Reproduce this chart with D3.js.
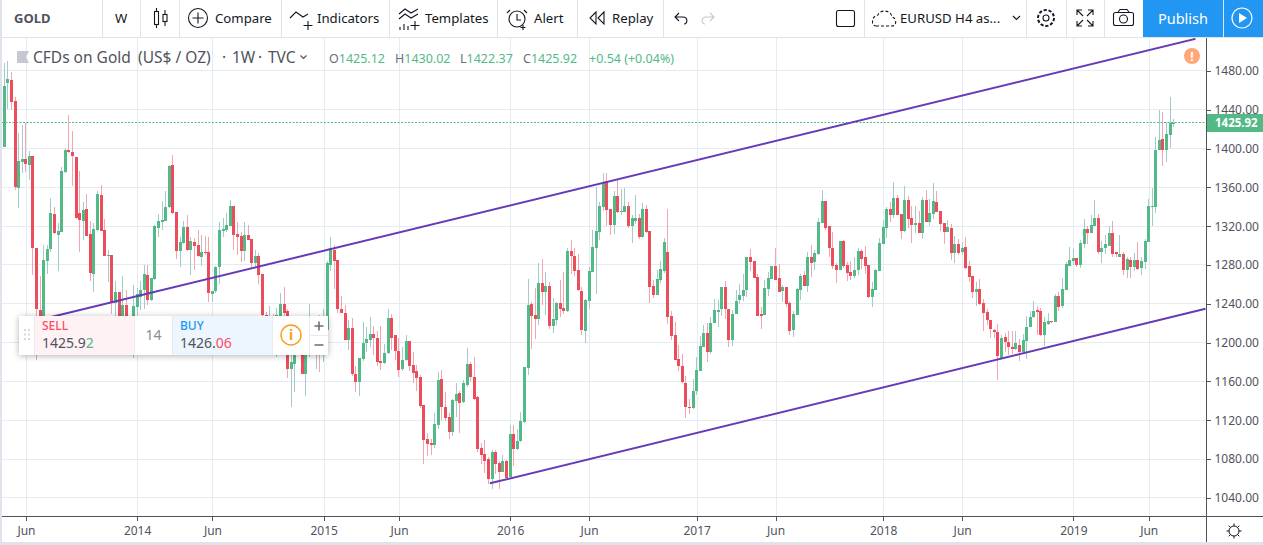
<!DOCTYPE html>
<html>
<head>
<meta charset="utf-8">
<style>
html, body { margin: 0; padding: 0; background: #fff; overflow: hidden; }
svg { display: block; }
text { font-family: "Noto Sans", sans-serif; }
.axis text { font-family: "Noto Sans", sans-serif; font-size: 12px; fill: #50535e; }
.axis path, .axis line { stroke: #50535e; shape-rendering: crispEdges; }
.tool { font-size: 13.2px; fill: #131722; }
.ico { fill: none; stroke: #131722; stroke-width: 1.1; }
</style>
<script src="https://cdnjs.cloudflare.com/ajax/libs/d3/7.8.5/d3.min.js"></script>
</head>
<body>
<script>
// weekly candles
var opens = [
 1402,1468,1471,1449,1359,1386,1389,1383,1392,1298,
 1234,1215,1284,1296,1333,1311,1314,1376,1398,1396,
 1391,1334,1325,1338,1312,1271,1316,1352,1316,1289,
 1290,1241,1252,1227,1239,1215,1205,1237,1247,1254,
 1270,1244,1266,1318,1324,1325,1340,1383,1335,1294,
 1303,1319,1295,1304,1301,1288,1293,1293,1250,1253,
 1278,1315,1316,1320,1341,1312,1310,1294,1311,1307,
 1282,1289,1271,1228,1222,1226,1218,1222,1240,1233,
 1173,1178,1188,1188,1168,1188,1199,1204,1208,1204,
 1213,1280,1295,1285,1235,1231,1203,1215,1168,1159,
 1183,1200,1203,1209,1205,1181,1179,1189,1225,1208,
 1191,1173,1182,1202,1177,1171,1165,1136,1101,1097,
 1095,1115,1163,1134,1123,1108,1140,1148,1139,1156,
 1178,1165,1144,1091,1085,1080,1059,1087,1076,1067,
 1078,1062,1106,1090,1099,1118,1174,1240,1228,1224,
 1261,1252,1258,1217,1223,1241,1236,1233,1294,1289,
 1275,1253,1212,1243,1273,1298,1314,1340,1367,1338,
 1321,1351,1335,1335,1341,1320,1325,1328,1309,1338,
 1315,1258,1249,1265,1274,1293,1227,1208,1183,1176,
 1158,1134,1133,1150,1171,1196,1210,1190,1220,1232,
 1235,1257,1235,1203,1229,1244,1248,1254,1288,1284,
 1268,1229,1228,1255,1266,1279,1267,1253,1257,1241,
 1213,1228,1254,1270,1258,1288,1283,1291,1323,1346,
 1320,1297,1280,1275,1305,1280,1273,1269,1275,1294,
 1288,1280,1247,1254,1274,1302,1318,1338,1331,1349,
 1333,1315,1347,1328,1321,1323,1313,1347,1324,1333,
 1345,1336,1323,1314,1318,1292,1302,1293,1299,1279,
 1269,1252,1255,1241,1232,1223,1213,1211,1184,1206,
 1201,1196,1193,1198,1190,1202,1216,1226,1234,1233,
 1208,1219,1222,1221,1248,1238,1254,1279,1284,1287,
 1280,1302,1317,1313,1320,1328,1293,1298,1300,1313,
 1293,1288,1291,1275,1285,1278,1285,1277,1283,1304,
 1340,1340,1398,1410,1398,1414,1425.12];
var highs = [
 1488,1490,1479,1453,1416,1424,1426,1397,1392,1298,
 1269,1301,1301,1349,1340,1323,1381,1401,1435,1418,
 1391,1377,1345,1353,1325,1323,1356,1362,1327,1295,
 1290,1263,1252,1269,1254,1220,1259,1256,1263,1280,
 1280,1267,1321,1333,1346,1356,1383,1393,1335,1309,
 1325,1332,1309,1308,1316,1311,1310,1309,1253,1279,
 1324,1328,1334,1347,1341,1324,1314,1324,1321,1307,
 1295,1292,1271,1232,1238,1230,1236,1251,1257,1235,
 1200,1200,1205,1210,1210,1240,1222,1222,1228,1235,
 1284,1309,1301,1285,1248,1239,1223,1225,1176,1184,
 1221,1216,1226,1217,1212,1217,1199,1235,1230,1208,
 1205,1195,1208,1202,1190,1177,1167,1136,1107,1101,
 1128,1170,1172,1149,1128,1142,1158,1150,1162,1194,
 1180,1185,1145,1097,1100,1082,1089,1089,1078,1084,
 1079,1115,1115,1111,1129,1175,1266,1242,1256,1282,
 1286,1273,1262,1246,1242,1265,1273,1298,1306,1297,
 1291,1257,1245,1278,1316,1360,1345,1375,1375,1338,
 1356,1368,1358,1359,1345,1331,1352,1333,1344,1342,
 1315,1265,1275,1284,1308,1338,1233,1221,1198,1188,
 1166,1142,1163,1185,1207,1218,1220,1226,1245,1244,
 1257,1264,1235,1234,1254,1260,1271,1288,1296,1284,
 1271,1237,1265,1273,1279,1297,1281,1259,1257,1243,
 1233,1256,1271,1274,1293,1301,1295,1328,1357,1346,
 1320,1314,1282,1305,1306,1283,1284,1288,1298,1296,
 1300,1280,1262,1276,1308,1326,1340,1345,1366,1352,
 1333,1361,1351,1341,1341,1336,1350,1357,1348,1365,
 1356,1336,1323,1326,1322,1310,1307,1304,1309,1284,
 1269,1262,1266,1245,1235,1223,1214,1219,1208,1210,
 1212,1212,1212,1204,1209,1227,1233,1243,1238,1236,
 1226,1231,1222,1250,1252,1267,1283,1299,1296,1287,
 1306,1327,1320,1331,1347,1333,1305,1311,1320,1325,
 1293,1311,1293,1288,1288,1292,1304,1288,1307,1348,
 1359,1412,1440,1438,1427,1453,1430.02];
var lows = [
 1402,1441,1440,1357,1339,1375,1376,1368,1270,1182,
 1205,1205,1271,1293,1312,1274,1314,1375,1395,1361,
 1327,1293,1306,1310,1263,1252,1315,1315,1289,1262,
 1229,1227,1227,1220,1210,1205,1184,1228,1234,1235,
 1239,1243,1265,1309,1316,1325,1339,1333,1286,1278,
 1302,1294,1270,1275,1288,1279,1290,1242,1242,1251,
 1260,1309,1314,1320,1295,1290,1283,1284,1306,1276,
 1278,1260,1215,1210,1206,1205,1185,1215,1215,1164,
 1134,1149,1187,1168,1145,1185,1190,1173,1170,1180,
 1205,1274,1255,1231,1231,1203,1192,1166,1149,1145,
 1181,1190,1195,1187,1176,1172,1178,1188,1192,1182,
 1165,1171,1181,1171,1158,1150,1133,1075,1083,1084,
 1091,1111,1120,1119,1101,1104,1123,1107,1138,1154,
 1160,1141,1087,1075,1066,1054,1049,1065,1049,1067,
 1060,1061,1073,1089,1098,1117,1167,1193,1204,1218,
 1239,1228,1214,1210,1218,1226,1229,1232,1271,1269,
 1253,1208,1200,1235,1273,1250,1306,1336,1320,1311,
 1312,1334,1331,1335,1318,1303,1322,1307,1308,1313,
 1241,1246,1249,1261,1272,1219,1203,1182,1171,1158,
 1122,1126,1132,1146,1171,1196,1180,1188,1220,1216,
 1227,1224,1195,1197,1229,1240,1243,1247,1274,1267,
 1227,1214,1228,1248,1266,1265,1252,1242,1237,1208,
 1206,1228,1244,1258,1252,1268,1275,1290,1323,1316,
 1288,1276,1261,1275,1277,1264,1265,1267,1270,1276,
 1271,1246,1237,1254,1274,1302,1308,1324,1328,1331,
 1307,1314,1318,1303,1313,1313,1307,1324,1320,1327,
 1335,1315,1302,1314,1285,1282,1290,1290,1276,1262,
 1246,1238,1239,1212,1218,1205,1205,1161,1183,1190,
 1187,1188,1192,1181,1188,1183,1216,1225,1208,1207,
 1197,1218,1220,1221,1233,1236,1254,1279,1280,1278,
 1277,1297,1302,1313,1320,1291,1282,1291,1300,1288,
 1288,1288,1270,1267,1267,1274,1275,1270,1276,1304,
 1320,1334,1398,1382,1386,1401,1422.37];
var closes = [
 1464,1472,1448,1360,1387,1389,1384,1392,1298,1235,
 1215,1285,1296,1334,1313,1315,1377,1398,1396,1392,
 1328,1326,1337,1310,1272,1317,1353,1315,1289,1290,
 1241,1252,1227,1239,1215,1205,1238,1250,1254,1271,
 1244,1267,1320,1325,1326,1340,1382,1334,1294,1304,
 1319,1295,1305,1300,1289,1293,1292,1251,1253,1278,
 1316,1317,1321,1341,1311,1309,1294,1311,1306,1282,
 1289,1270,1228,1222,1226,1218,1228,1240,1231,1173,
 1180,1188,1195,1168,1188,1199,1204,1208,1204,1212,
 1282,1297,1284,1235,1231,1203,1215,1168,1159,1184,
 1200,1204,1209,1205,1180,1179,1189,1225,1205,1191,
 1172,1182,1202,1176,1169,1164,1135,1100,1096,1095,
 1116,1162,1134,1122,1108,1141,1147,1138,1158,1178,
 1165,1142,1090,1084,1078,1059,1087,1075,1067,1078,
 1061,1106,1090,1099,1119,1175,1239,1227,1224,1261,
 1252,1258,1217,1224,1241,1235,1233,1294,1289,1274,
 1254,1213,1244,1274,1299,1315,1341,1366,1337,1321,
 1351,1335,1336,1341,1320,1328,1328,1309,1338,1314,
 1257,1249,1266,1276,1304,1226,1207,1182,1176,1159,
 1134,1133,1150,1172,1197,1210,1190,1220,1234,1234,
 1257,1235,1203,1229,1243,1249,1254,1288,1283,1267,
 1227,1227,1256,1267,1279,1265,1252,1257,1240,1212,
 1229,1255,1269,1258,1288,1282,1292,1324,1346,1318,
 1297,1279,1275,1305,1279,1272,1269,1275,1294,1286,
 1279,1247,1255,1275,1303,1319,1338,1331,1349,1332,
 1315,1347,1327,1321,1323,1313,1347,1324,1334,1346,
 1335,1322,1314,1319,1292,1302,1292,1298,1277,1268,
 1252,1255,1240,1231,1223,1214,1211,1186,1205,1201,
 1196,1193,1200,1190,1203,1216,1226,1233,1232,1208,
 1221,1222,1221,1248,1237,1255,1281,1285,1287,1280,
 1303,1317,1313,1321,1328,1293,1298,1302,1313,1291,
 1291,1291,1275,1286,1278,1285,1276,1284,1305,1341,
 1341,1399,1409,1399,1415,1426,1425.92];

var priceTicks = [1480,1440,1400,1360,1320,1280,1240,1200,1160,1120,1080,1040];
var timeTickBars = [6,37,58,89,110,141,163,193,215,245,267,298,319];
var timeTickLabels = ["Jun","2014","Jun","2015","Jun","2016","Jun","2017","Jun","2018","Jun","2019","Jun"];
var lastPrice = 1425.92;
// trend channel: [bar, price]
var upperLine = [[8.3,1222],[332.2,1513]];
var lowerLine = [[135.5,1055],[335,1235]];

var W = 1263, H = 545, axisX = 1206, axisY = 516, topY = 38;
var green = "#53b987", red = "#eb4d5c";
var greenWick = "#a3cbca", redWick = "#f6a5ae";

var svg = d3.select("body").append("svg").attr("width", W).attr("height", H);

var x = d3.scaleLinear().domain([0, 326]).range([3.8, 1173.2]);
var y = d3.scaleLinear().domain([1040, 1480]).range([497.9, 70.9]);

// outer frame bits
svg.append("rect").attr("x", 0).attr("y", 0).attr("width", 2).attr("height", H).attr("fill", "#e0e3eb");
svg.append("rect").attr("x", 0).attr("y", 542).attr("width", W).attr("height", 3).attr("fill", "#e0e3eb");
svg.append("rect").attr("x", 0).attr("y", 37).attr("width", W).attr("height", 1).attr("fill", "#e0e3eb");

// grid
var gridColor = "#e3ecf2";
svg.append("g").selectAll("rect").data(priceTicks).enter().append("rect")
 .attr("x", 2).attr("width", axisX - 2).attr("height", 1)
 .attr("y", function(d) { return Math.floor(y(d)); })
 .attr("fill", gridColor);
svg.append("g").selectAll("rect").data(timeTickBars).enter().append("rect")
 .attr("y", topY).attr("width", 1).attr("height", axisY - topY)
 .attr("x", function(d) { return Math.round(x(d) + 0.6); })
 .attr("fill", gridColor);

// axes
var yAxis = d3.axisRight(y).tickValues(priceTicks).tickFormat(d3.format(".2f")).tickSize(4).tickSizeOuter(0).tickPadding(4);
svg.append("g").attr("class", "axis").attr("transform", "translate(" + (axisX + 0.5) + ",0)").call(yAxis)
 .select(".domain").attr("d", "M0," + topY + "V" + axisY);
var xAxis = d3.axisBottom(x).tickValues(timeTickBars)
 .tickFormat(function(d, i) { return timeTickLabels[i]; }).tickSize(4).tickSizeOuter(0).tickPadding(6);
var xAxisG = svg.append("g").attr("class", "axis").attr("transform", "translate(0.6," + (axisY + 0.5) + ")").call(xAxis);
xAxisG.select(".domain").attr("d", "M1.4,0H" + W);
svg.append("rect").attr("x", axisX).attr("y", axisY).attr("width", 1).attr("height", 26).attr("fill", "#50535e");

// last price dotted line
svg.append("line")
 .attr("x1", 2).attr("x2", axisX)
 .attr("y1", 122.5).attr("y2", 122.5)
 .attr("stroke", green).attr("stroke-width", 1).attr("stroke-dasharray", "2 1.5");

// candles
var bars = d3.range(opens.length);
var candles = svg.append("g").attr("shape-rendering", "crispEdges");
candles.selectAll("rect.wick").data(bars).enter().append("rect")
 .attr("class", "wick")
 .attr("x", function(i) { return Math.round(x(i)); })
 .attr("width", 1)
 .attr("y", function(i) { return y(highs[i]); })
 .attr("height", function(i) { return y(lows[i]) - y(highs[i]); })
 .attr("fill", function(i) { return closes[i] >= opens[i] ? greenWick : redWick; });
candles.selectAll("rect.body").data(bars).enter().append("rect")
 .attr("class", "body")
 .attr("x", function(i) { return Math.round(x(i)) - 1; })
 .attr("width", 3)
 .attr("y", function(i) { return y(Math.max(opens[i], closes[i])); })
 .attr("height", function(i) { return Math.max(1, Math.abs(y(opens[i]) - y(closes[i]))); })
 .attr("fill", function(i) { return closes[i] >= opens[i] ? green : red; });

// channel, clipped to the pane
svg.append("clipPath").attr("id", "pane").append("rect")
 .attr("x", 0).attr("y", topY).attr("width", axisX).attr("height", axisY - topY);
var lineGen = d3.line().x(function(d) { return x(d[0]); }).y(function(d) { return y(d[1]); });
[upperLine, lowerLine].forEach(function(l) {
 svg.append("path").attr("d", lineGen(l)).attr("clip-path", "url(#pane)")
  .attr("fill", "none").attr("stroke", "#673ab7").attr("stroke-width", 2);
});

// last price tag
svg.append("rect").attr("x", axisX + 1).attr("y", 114).attr("width", W - axisX - 1).attr("height", 18).attr("fill", green);
svg.append("text").attr("x", 1215).attr("y", 127).text(d3.format(".2f")(lastPrice))
 .attr("fill", "#fff").attr("font-size", 11.5).attr("font-weight", 700);

// alert dot
svg.append("circle").attr("cx", 1192).attr("cy", 56).attr("r", 8).attr("fill", "#ffa777");
svg.append("text").attr("x", 1192).attr("y", 60.5).attr("text-anchor", "middle").text("!").attr("fill", "#fff").attr("font-size", 12).attr("font-weight", 700);

// legend
svg.append("path").attr("d", "M17,51H29L26,57L29,63H17Z").attr("fill", "#c5c8d1");
var titleParts = [["CFDs on Gold", 33], ["(US$ / OZ)", 138], ["·", 222], ["1W", 232], ["·", 258], ["TVC", 268]];
titleParts.forEach(function(d) {
 svg.append("text").attr("x", d[1]).attr("y", 63).attr("fill", "#50535e").attr("font-size", 15.5).text(d[0]);
});
svg.append("path").attr("d", "M300.5,55.5L303.5,58.5L306.5,55.5").attr("fill", "none").attr("stroke", "#50535e").attr("stroke-width", 1.2);
var ohlc = [["O", "1425.12", 329], ["H", "1430.02", 395], ["L", "1422.37", 460], ["C", "1425.92", 523]];
ohlc.forEach(function(d) {
 var t = svg.append("text").attr("x", d[2]).attr("y", 63).attr("font-size", 12.5);
 t.append("tspan").attr("fill", "#6a6d78").text(d[0]);
 t.append("tspan").attr("fill", green).text(d[1]);
});
svg.append("text").attr("x", 589).attr("y", 63).attr("font-size", 12.5).attr("fill", green).text("+0.54 (+0.04%)");

// toolbar
var tb = svg.append("g");
[102,140,179,281,389,497,577,663,864,1026,1066,1104].forEach(function(sx) {
 tb.append("rect").attr("x", sx).attr("y", 0).attr("width", 1).attr("height", 37).attr("fill", "#e0e3eb");
});
tb.append("text").attr("x", 14).attr("y", 23).attr("font-size", 13).attr("font-weight", 700).attr("fill", "#50535e").text("GOLD");
tb.append("text").attr("x", 115).attr("y", 23).attr("class", "tool").text("W");
tb.append("rect").attr("x", 154.5).attr("y", 11.5).attr("width", 4).attr("height", 13).attr("class", "ico");
tb.append("path").attr("d", "M156.5,8V11M156.5,25V28M165,10V14M165,22V26").attr("class", "ico");
tb.append("rect").attr("x", 163).attr("y", 14.5).attr("width", 4).attr("height", 7).attr("class", "ico");
tb.append("circle").attr("cx", 198).attr("cy", 18).attr("r", 9.5).attr("class", "ico");
tb.append("path").attr("d", "M198,12.5V23.5M192.5,18H203.5").attr("class", "ico");
tb.append("text").attr("x", 215).attr("y", 23).attr("class", "tool").text("Compare");
tb.append("path").attr("d", "M290,18L296,12L303,17L308,14M308,21V30M303.5,25.5H312.5").attr("class", "ico");
tb.append("text").attr("x", 317).attr("y", 23).attr("class", "tool").text("Indicators");
tb.append("path").attr("d", "M399,14L405,9L411,13L418,9M399,19L405,14L411,18L418,14M415,21V30M410.5,25.5H419.5M400,30V27M404,30V24M408,30V26").attr("class", "ico");
tb.append("text").attr("x", 425).attr("y", 23).attr("class", "tool").text("Templates");
tb.append("circle").attr("cx", 517).attr("cy", 19).attr("r", 8).attr("class", "ico");
tb.append("path").attr("d", "M517,14V20H521M510,10L507,13M524,10L527,13M523,25V30M520.5,27.5H525.5").attr("class", "ico");
tb.append("text").attr("x", 534).attr("y", 23).attr("class", "tool").text("Alert");
tb.append("path").attr("d", "M596,12L590,18L596,24ZM604,12L598,18L604,24Z").attr("class", "ico");
tb.append("text").attr("x", 612).attr("y", 23).attr("class", "tool").text("Replay");
tb.append("path").attr("d", "M679,13L675,17L679,21M675,17H683C688,17 688,24 684,24").attr("class", "ico");
tb.append("path").attr("d", "M710,13L714,17L710,21M714,17H706C701,17 701,24 705,24").attr("class", "ico").style("stroke", "#c5c8d1");
tb.append("rect").attr("x", 836.5).attr("y", 10.5).attr("width", 18).attr("height", 16).attr("rx", 2).attr("class", "ico");
tb.append("path").attr("d", "M876,26H892C897,26 897,18 892,17C891,10 880,9 878,15C871,16 871,26 876,26Z").attr("class", "ico").attr("stroke-dasharray", "3 2");
tb.append("text").attr("x", 900).attr("y", 23).attr("class", "tool").text("EURUSD H4 as...");
tb.append("path").attr("d", "M1013,16L1016.5,19.5L1020,16").attr("class", "ico");
tb.append("circle").attr("cx", 1046).attr("cy", 18).attr("r", 3).attr("class", "ico");
tb.append("circle").attr("cx", 1046).attr("cy", 18).attr("r", 8).attr("class", "ico").attr("stroke-dasharray", "3.2 1.8").style("stroke-width", 2);
tb.append("path").attr("d", "M1077,15V10H1082M1088,10H1093V15M1093,21V26H1088M1082,26H1077V21M1077,10L1083,16M1093,10L1087,16M1093,26L1087,20M1077,26L1083,20").attr("class", "ico");
tb.append("rect").attr("x", 1113.5).attr("y", 12.5).attr("width", 20).attr("height", 13).attr("rx", 2).attr("class", "ico");
tb.append("path").attr("d", "M1118,12L1120,9.5H1127L1129,12").attr("class", "ico");
tb.append("circle").attr("cx", 1123.5).attr("cy", 19).attr("r", 4).attr("class", "ico");
tb.append("rect").attr("x", 1143).attr("y", 0).attr("width", 120).attr("height", 37).attr("fill", "#2196f3");
tb.append("rect").attr("x", 1223).attr("y", 0).attr("width", 1).attr("height", 37).attr("fill", "#fff").attr("opacity", 0.8);
tb.append("text").attr("x", 1183).attr("y", 23.5).attr("text-anchor", "middle").attr("font-size", 14.5).attr("fill", "#fff").text("Publish");
tb.append("circle").attr("cx", 1242).attr("cy", 18).attr("r", 10).attr("fill", "none").attr("stroke", "#fff").attr("stroke-width", 1.2);
tb.append("path").attr("d", "M1239,13L1247,18L1239,23Z").attr("fill", "#fff");

// sun icon on the time axis
svg.append("circle").attr("cx", 1234).attr("cy", 531).attr("r", 5).attr("fill", "none").attr("stroke", "#131722");
svg.append("path").attr("d", "M1234,523.5V526M1234,536V538.5M1226.5,531H1229M1239,531H1241.5M1228.7,525.7L1230.5,527.5M1237.5,534.5L1239.3,536.3M1239.3,525.7L1237.5,527.5M1230.5,534.5L1228.7,536.3")
 .attr("fill", "none").attr("stroke", "#131722");

// buy/sell panel
var panel = svg.append("g");
panel.append("rect").attr("x", 19).attr("y", 316).attr("width", 309).attr("height", 39).attr("fill", "#fff")
 .style("filter", "drop-shadow(0 1px 3px rgba(0,0,0,0.3))");
panel.append("rect").attr("x", 35).attr("y", 316).attr("width", 99).attr("height", 39).attr("fill", "#fff2f4");
panel.append("rect").attr("x", 173).attr("y", 316).attr("width", 99).attr("height", 39).attr("fill", "#edf5fd");
[34,134,172,272,309].forEach(function(sx) {
 panel.append("rect").attr("x", sx).attr("y", 316).attr("width", 1).attr("height", 39).attr("fill", "#e8eaee");
});
panel.append("rect").attr("x", 310).attr("y", 335).attr("width", 18).attr("height", 1).attr("fill", "#e8eaee");
d3.range(3).forEach(function(r) {
 [24, 28].forEach(function(cx) {
  panel.append("rect").attr("x", cx).attr("y", 329 + r * 4.5).attr("width", 2).attr("height", 2).attr("fill", "#d5d8de");
 });
});
panel.append("text").attr("x", 42).attr("y", 330).attr("font-size", 12).attr("font-weight", 500).attr("fill", "#ff4a68").text("SELL");
var sellT = panel.append("text").attr("x", 42).attr("y", 348).attr("font-size", 14).attr("fill", "#50535e");
sellT.append("tspan").text("1425.9");
sellT.append("tspan").attr("fill", green).text("2");
panel.append("text").attr("x", 153.5).attr("y", 340).attr("text-anchor", "middle").attr("font-size", 14).attr("fill", "#8a8d96").text("14");
panel.append("text").attr("x", 180).attr("y", 330).attr("font-size", 12).attr("font-weight", 500).attr("fill", "#2196f3").text("BUY");
var buyT = panel.append("text").attr("x", 180).attr("y", 348).attr("font-size", 14).attr("fill", "#50535e");
buyT.append("tspan").text("1426.");
buyT.append("tspan").attr("fill", "#ff4a68").text("06");
panel.append("circle").attr("cx", 291).attr("cy", 335).attr("r", 10).attr("fill", "none").attr("stroke", "#f89c1c").attr("stroke-width", 1.4);
panel.append("text").attr("x", 291).attr("y", 340).attr("text-anchor", "middle").attr("font-size", 14).attr("font-weight", 700).attr("fill", "#f89c1c").text("i");
panel.append("path").attr("d", "M314.5,326H323.5M319,321.5V330.5M314.5,345H323.5").attr("fill", "none").attr("stroke", "#6a6d78").attr("stroke-width", 1.6);
</script>
</body>
</html>
